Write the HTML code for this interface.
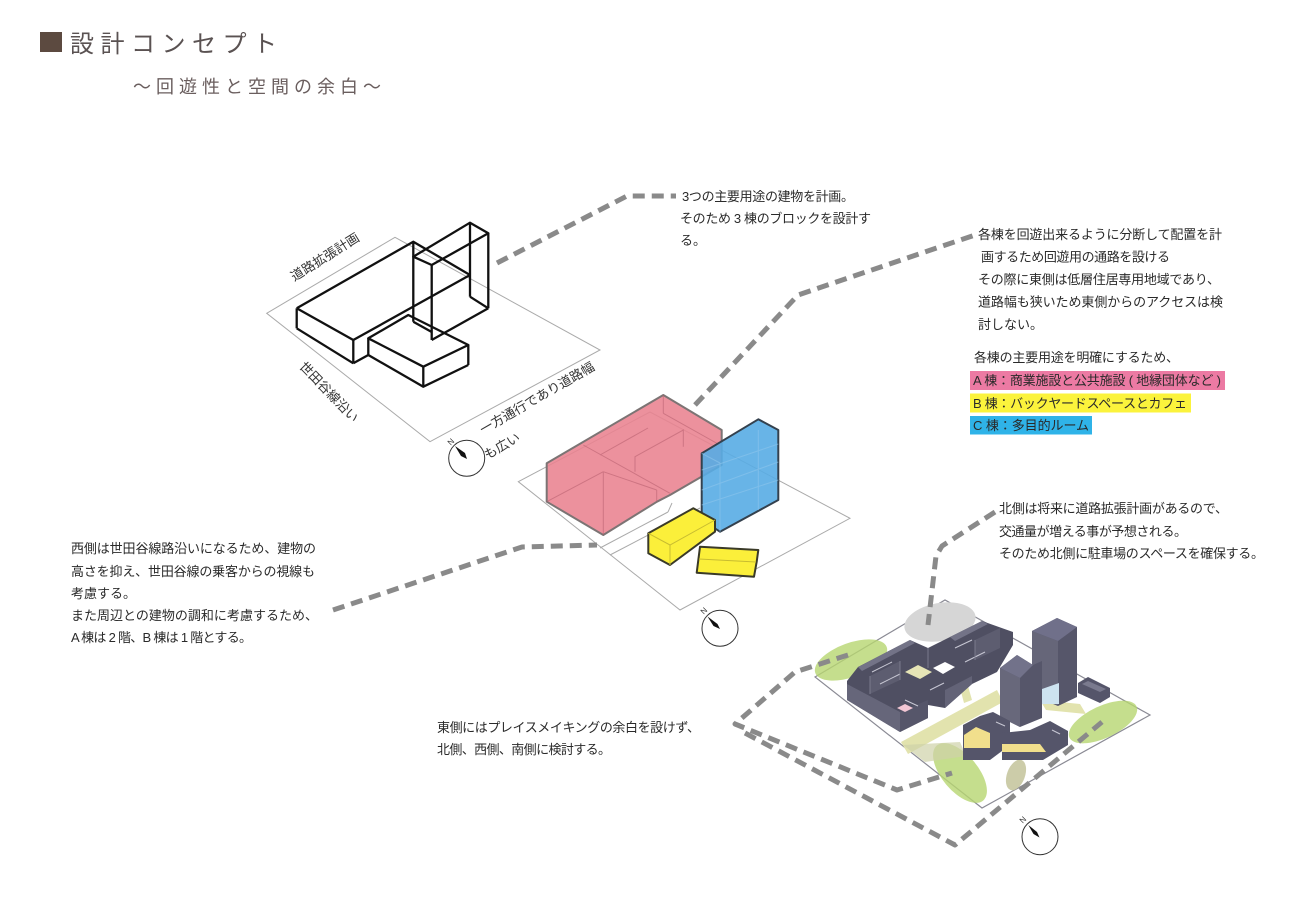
<!DOCTYPE html>
<html><head><meta charset="utf-8">
<style>
html,body{margin:0;padding:0;background:#fff;}
svg{display:block;}
text{font-family:"Liberation Sans","Noto Sans CJK JP",sans-serif;}
</style></head><body>
<svg width="1300" height="924" viewBox="0 0 1300 924" xmlns="http://www.w3.org/2000/svg">
<rect width="1300" height="924" fill="#fff"/>

<!-- Title -->
<rect x="40" y="32" width="22" height="20" fill="#5c4a40"/>
<text x="70" y="52" font-size="24" letter-spacing="6.5" fill="#5a5252">設計コンセプト</text>
<text x="133" y="93" font-size="18" letter-spacing="5" fill="#6a5e5e">～回遊性と空間の余白～</text>

<!-- ===== Top-left wireframe diagram ===== -->
<polygon points="266.7,313.3 395,237.3 600,350 430,441.7" fill="none" stroke="#aaa" stroke-width="1"/>
<g stroke="#111" stroke-width="2.3" fill="none" stroke-linejoin="round">
  <!-- long box -->
  <polyline points="296.7,308.3 413.3,241.7 470,275"/>
  <line x1="353.3" y1="340" x2="470" y2="275"/>
  <line x1="296.7" y1="308.3" x2="353.3" y2="340"/>
  <line x1="296.7" y1="308.3" x2="296.7" y2="328.3"/>
  <line x1="353.3" y1="340" x2="353.3" y2="363.3"/>
  <line x1="296.7" y1="328.3" x2="353.3" y2="363.3"/>
  <line x1="353.3" y1="363.3" x2="368.3" y2="355"/>
  <!-- tall box -->
  <polygon points="413.3,256.7 470,222.7 488.3,233.3 431.7,265"/>
  <line x1="413.3" y1="241.7" x2="413.3" y2="321.7"/>
  <line x1="431.7" y1="265" x2="431.7" y2="340"/>
  <line x1="488.3" y1="233.3" x2="488.3" y2="308.3"/>
  <line x1="470" y1="222.7" x2="470" y2="296.7"/>
  <line x1="431.7" y1="340" x2="488.3" y2="308.3"/>
  <line x1="470" y1="296.7" x2="488.3" y2="308.3"/>
  <line x1="413.3" y1="321.7" x2="431.7" y2="332"/>
  <!-- small box -->
  <polygon points="368.3,338.3 408.3,315 468.3,345 423.3,366.7"/>
  <line x1="368.3" y1="338.3" x2="368.3" y2="355"/>
  <line x1="423.3" y1="366.7" x2="423.3" y2="386.7"/>
  <line x1="468.3" y1="345" x2="468.3" y2="365"/>
  <polyline points="368.3,355 423.3,386.7 468.3,365"/>
</g>
<text font-size="13" fill="#333" text-anchor="middle" dominant-baseline="central" transform="translate(325,257) rotate(-32)">道路拡張計画</text>
<text font-size="13" fill="#333" text-anchor="middle" dominant-baseline="central" transform="translate(329,392) rotate(46)">世田谷線沿い</text>
<text font-size="13" fill="#333" text-anchor="middle" dominant-baseline="central" transform="translate(537,398) rotate(-30)">一方通行であり道路幅</text>
<text font-size="13" fill="#333" text-anchor="middle" dominant-baseline="central" transform="translate(502,446) rotate(-30)">も広い</text>
<!-- compass 1 -->
<circle cx="466.7" cy="458.3" r="18" fill="#fff" stroke="#333" stroke-width="1"/>
<polygon points="455,446 465,453 467,459 461,456" fill="#111"/>
<text font-size="8" fill="#333" text-anchor="middle" dominant-baseline="central" transform="translate(451,442) rotate(-45)">N</text>

<!-- ===== Middle coloured diagram ===== -->
<polygon points="518.3,481.7 650,412 850,518.3 680,610" fill="none" stroke="#aaa" stroke-width="1"/>
<g stroke="#aaa" stroke-width="1" fill="none">
  <line x1="600" y1="548" x2="668" y2="512"/>
  <line x1="610" y1="555" x2="700" y2="508"/>
  <line x1="668" y1="512" x2="672" y2="503"/>
</g>
<!-- pink A -->
<polygon points="546.7,463.3 663.3,395 721.7,430 721.7,465 670,495 657,501.7 603.3,535 546.7,501.7" fill="#e9828f" fill-opacity="0.88" stroke="#7c7474" stroke-width="2" stroke-linejoin="round"/>
<g stroke="#b05868" stroke-width="1" fill="none" opacity="0.5">
  <line x1="603.3" y1="471.7" x2="603.3" y2="535"/>
  <line x1="546.7" y1="501.7" x2="603.3" y2="471.7"/>
  <line x1="603.3" y1="471.7" x2="656.7" y2="490"/>
  <line x1="656.7" y1="490" x2="656.7" y2="501.7"/>
  <line x1="583.3" y1="445" x2="670" y2="493.3"/>
  <polyline points="635,471.7 635,456.7 683.3,430 683.3,446.7"/>
  <line x1="663.3" y1="395" x2="663.3" y2="413.3"/>
  <line x1="663.3" y1="413.3" x2="721.7" y2="446"/>
  <line x1="600" y1="455" x2="648" y2="428"/>
</g>
<!-- blue C -->
<polygon points="701.7,453.3 758.3,419.3 778.3,430 778.3,500 720,531.7 701.7,520" fill="#58ace4" fill-opacity="0.9" stroke="#34414e" stroke-width="2" stroke-linejoin="round"/>
<g stroke="#8ec6ec" stroke-width="1" fill="none" opacity="0.6">
  <line x1="758.3" y1="430" x2="758.3" y2="510"/>
  <line x1="701.7" y1="470" x2="778.3" y2="444"/>
  <line x1="701.7" y1="490" x2="778.3" y2="462"/>
  <line x1="701.7" y1="505" x2="778.3" y2="480"/>
  <line x1="701.7" y1="453.3" x2="720" y2="463"/>
  <line x1="720" y1="463" x2="720" y2="531.7"/>
</g>
<!-- yellow B1 -->
<polygon points="648.3,533.3 693.3,508.3 715,520 715,531.7 670,565 648.3,553.3" fill="#fbef3a" stroke="#3a3a28" stroke-width="2" stroke-linejoin="round"/>
<g stroke="#c8bc30" stroke-width="1" fill="none">
  <polyline points="648.3,533.3 670,545 715,520"/>
  <line x1="670" y1="545" x2="670" y2="565"/>
</g>
<!-- yellow B2 -->
<polygon points="700,546.7 758.3,550 756.7,561.7 754,576.7 696.7,572.7" fill="#fbef3a" stroke="#3a3a28" stroke-width="2" stroke-linejoin="round"/>
<line x1="699" y1="559" x2="756" y2="562" stroke="#c8bc30" stroke-width="1"/>
<!-- compass 2 -->
<circle cx="720" cy="628.3" r="18" fill="#fff" stroke="#333" stroke-width="1"/>
<polygon points="707.5,616.5 717.5,624 720,629 713.5,626" fill="#111"/>
<text font-size="8" fill="#333" text-anchor="middle" dominant-baseline="central" transform="translate(704,611) rotate(-45)">N</text>

<!-- ===== Bottom-right site plan ===== -->
<polygon points="815,677 945,600 1150,715 982,808" fill="#fff" stroke="#8a8a94" stroke-width="1.2"/>
<ellipse cx="940" cy="622" rx="36" ry="19" transform="rotate(-10 940 622)" fill="#d6d6d6"/>
<ellipse cx="851" cy="660" rx="38" ry="17" transform="rotate(-20 851 660)" fill="#b6d670" fill-opacity="0.8"/>
<ellipse cx="1103" cy="722" rx="37" ry="16" transform="rotate(-25 1103 722)" fill="#b6d670" fill-opacity="0.8"/>
<ellipse cx="960" cy="773" rx="36" ry="18" transform="rotate(50 960 773)" fill="#b6d670" fill-opacity="0.8"/>
<ellipse cx="1016" cy="775" rx="9" ry="16" transform="rotate(20 1016 775)" fill="#c6c6a0" fill-opacity="0.9"/>
<!-- path band -->
<polygon points="901,742 997,690 1003,702 908,754" fill="#e2e3ae"/>
<polygon points="903,745 960,742 966,756 925,762" fill="#cfd1a8" fill-opacity="0.7"/>
<polygon points="1040,700 1080,704 1086,714 1046,710" fill="#e2e3ae"/>
<polygon points="960,688 968,686 972,700 964,703" fill="#e2e3ae"/>
<!-- left cluster -->
<polygon points="847,681 858,667 910,640 928,648 948,638 982,621 1013,632 1013,645 997,672 972,684 945,708 928,705 928,718 900,732 847,700" fill="#4f4f62"/>
<polygon points="847,684 900,712 900,732 847,700" fill="#66667a"/>
<polygon points="900,712 928,700 928,718 900,732" fill="#56566a"/>
<polygon points="945,690 972,676 972,684 945,708" fill="#636377"/>
<polygon points="858,667 910,640 915,643 862,671" fill="#737387"/>
<polygon points="950,637 982,621 988,624 955,641" fill="#737387"/>
<polygon points="870,676 900,661 900,680 870,694" fill="#5d5d70"/>
<polygon points="975,640 1000,628 1000,648 975,660" fill="#5d5d70"/>
<polygon points="905,672 918,665 932,672 920,679" fill="#e6e5b6"/>
<polygon points="933,668 945,662 955,667 943,674" fill="#ffffff"/>
<polygon points="897,708 905,704 913,708 905,712" fill="#f2c6d4"/>
<g stroke="#c8c8d4" stroke-width="1">
  <line x1="872" y1="672" x2="892" y2="662"/>
  <line x1="880" y1="684" x2="900" y2="674"/>
  <line x1="955" y1="648" x2="972" y2="640"/>
  <line x1="965" y1="662" x2="985" y2="652"/>
  <line x1="905" y1="700" x2="918" y2="706"/>
  <line x1="930" y1="690" x2="944" y2="683"/>
</g>
<g stroke="#7a7a8c" stroke-width="1">
  <line x1="870" y1="676" x2="870" y2="694"/>
  <line x1="900" y1="661" x2="900" y2="680"/>
  <line x1="975" y1="640" x2="975" y2="660"/>
  <line x1="928" y1="648" x2="928" y2="668"/>
</g>
<!-- towers -->
<polygon points="1032,631 1057,618 1077,627 1077,697 1058,706 1032,695" fill="#56566a"/>
<polygon points="1032,631 1058,641 1058,706 1032,695" fill="#666679"/>
<polygon points="1032,631 1057,618 1077,627 1058,641" fill="#70708a"/>
<polygon points="1042,689 1059,683 1059,704 1042,704" fill="#cde3f0"/>
<polygon points="1000,668 1017,655 1033,665 1042,661 1042,718 1020,727 1000,717" fill="#56566a"/>
<polygon points="1000,668 1020,678 1020,727 1000,717" fill="#68687b"/>
<polygon points="1000,668 1017,655 1033,665 1020,678" fill="#72728a"/>
<polygon points="1078,683 1088,677 1110,688 1110,697 1100,703 1078,693" fill="#55556a"/>
<polygon points="1082,684 1088,681 1106,689 1100,692" fill="#7a7a8e"/>
<!-- lower cluster -->
<polygon points="963,725 980,716 993,712 1010,721 1010,745 990,760 963,760" fill="#55556a"/>
<polygon points="964,735 976,727 990,733 990,748 964,748" fill="#f1df8c"/>
<polygon points="1002,733 1030,730 1050,721 1068,731 1068,745 1043,760 1002,760" fill="#55556a"/>
<polygon points="1002,744 1040,744 1046,752 1002,752" fill="#f1df8c"/>
<g stroke="#c8c8d4" stroke-width="1">
  <line x1="996" y1="722" x2="1005" y2="726"/>
  <line x1="1052" y1="730" x2="1060" y2="734"/>
</g>
<!-- compass 3 -->
<circle cx="1040" cy="836.7" r="18" fill="#fff" stroke="#333" stroke-width="1"/>
<polygon points="1028.3,825 1037,832 1039.5,837.5 1033.5,834" fill="#111"/>
<text font-size="8" fill="#333" text-anchor="middle" dominant-baseline="central" transform="translate(1023,820) rotate(-45)">N</text>

<!-- ===== Dashed leader lines ===== -->
<g stroke="#8a8a8a" stroke-width="5" fill="none" stroke-dasharray="12 7" stroke-linejoin="round">
  <path d="M497,263 L627,196 L676,196"/>
  <path d="M695,405 L798,295 L975,235"/>
  <path d="M333,610 L522,547 L597,545"/>
  <path d="M995,512 L942,546 L936,556 L928,625"/>
  <path d="M848,655 L795,672 L735,724 L897,790 L952,773"/>
  <path d="M745,733 L955,845 L1102,722"/>
</g>

<!-- ===== Text blocks ===== -->
<g font-size="13" fill="#2a2a2a">
  <text x="682" y="201" textLength="172" lengthAdjust="spacing">3つの主要用途の建物を計画。</text>
  <text x="680" y="223" textLength="191" lengthAdjust="spacing">そのため 3 棟のブロックを設計す</text>
  <text x="680" y="245">る。</text>

  <text x="978" y="239" textLength="244" lengthAdjust="spacing">各棟を回遊出来るように分断して配置を計</text>
  <text x="981" y="261.5" textLength="189" lengthAdjust="spacing">画するため回遊用の通路を設ける</text>
  <text x="978" y="284" textLength="242" lengthAdjust="spacing">その際に東側は低層住居専用地域であり、</text>
  <text x="978" y="306.5" textLength="245" lengthAdjust="spacing">道路幅も狭いため東側からのアクセスは検</text>
  <text x="978" y="329">討しない。</text>

  <text x="974" y="362" textLength="205" lengthAdjust="spacing">各棟の主要用途を明確にするため、</text>
  <rect x="970" y="371" width="255" height="19" fill="#ec7aa3"/>
  <rect x="970" y="393.5" width="221" height="19" fill="#fbf33c"/>
  <rect x="970" y="416" width="122" height="18.5" fill="#2fb3e8"/>
  <text x="973" y="385" textLength="248" lengthAdjust="spacing">A 棟：商業施設と公共施設 ( 地縁団体など )</text>
  <text x="973" y="408" textLength="214" lengthAdjust="spacing">B 棟：バックヤードスペースとカフェ</text>
  <text x="973" y="430" textLength="116" lengthAdjust="spacing">C 棟：多目的ルーム</text>

  <text x="71" y="553" textLength="245" lengthAdjust="spacing">西側は世田谷線路沿いになるため、建物の</text>
  <text x="71" y="576" textLength="244" lengthAdjust="spacing">高さを抑え、世田谷線の乗客からの視線も</text>
  <text x="71" y="598">考慮する。</text>
  <text x="71" y="620" textLength="247" lengthAdjust="spacing">また周辺との建物の調和に考慮するため、</text>
  <text x="71" y="642" textLength="181" lengthAdjust="spacing">A 棟は 2 階、B 棟は 1 階とする。</text>

  <text x="999" y="513" textLength="229" lengthAdjust="spacing">北側は将来に道路拡張計画があるので、</text>
  <text x="999" y="536" textLength="188" lengthAdjust="spacing">交通量が増える事が予想される。</text>
  <text x="999" y="558" textLength="265" lengthAdjust="spacing">そのため北側に駐車場のスペースを確保する。</text>

  <text x="437" y="732" textLength="263" lengthAdjust="spacing">東側にはプレイスメイキングの余白を設けず、</text>
  <text x="437" y="754" textLength="174" lengthAdjust="spacing">北側、西側、南側に検討する。</text>
</g>
</svg>
</body></html>
